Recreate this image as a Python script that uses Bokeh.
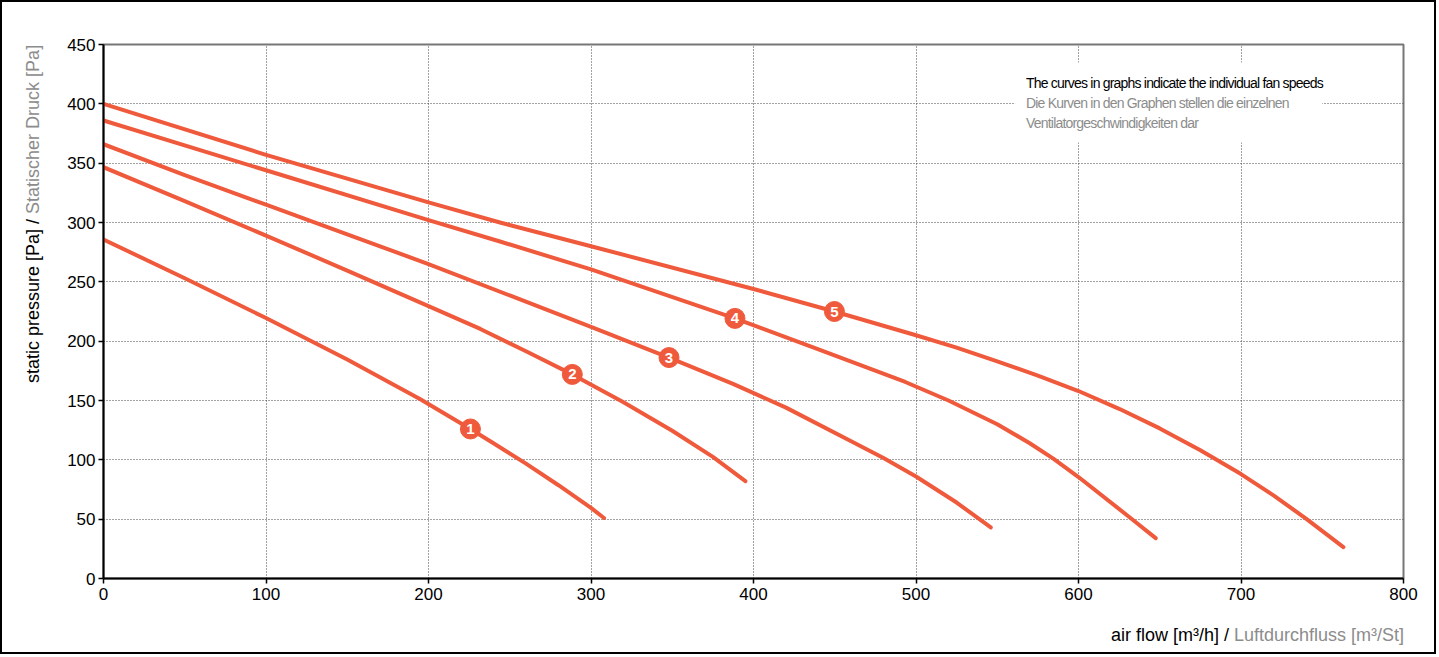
from bokeh.plotting import figure
from bokeh.layouts import column
from bokeh.models import Range1d, FixedTicker, BoxAnnotation, ColumnDataSource, Div
from bokeh.embed import file_html
from bokeh.resources import INLINE
from bokeh.core.properties import value

# ---- data ----
x_ticks = [0, 100, 200, 300, 400, 500, 600, 700, 800]
y_ticks = [0, 50, 100, 150, 200, 250, 300, 350, 400, 450]

c1_x = [0, 50, 100, 150, 195, 225.8, 240, 260, 280, 300, 308]
c1_y = [285.7, 253, 219.5, 184.5, 151, 126, 114, 96.8, 78.6, 59.5, 51]

c2_x = [0, 50, 100, 150, 200, 231.9, 260, 288.5, 320, 350, 375, 395]
c2_y = [346.6, 318, 289, 259.5, 229.5, 210.3, 191.5, 172, 148.5, 124.5, 102.5, 82]

c3_x = [0, 50, 100, 150, 200, 250, 300, 348, 387.4, 420, 459.5, 480, 500, 525, 546]
c3_y = [366, 340, 315, 290, 265, 238.5, 212, 186.2, 164, 144, 116, 101.5, 86, 64, 43]

c4_x = [0, 100, 200, 244, 300, 388.6, 440, 493.4, 520, 550, 570, 584.5, 600, 632, 647.5]
c4_y = [386, 344, 302, 284, 260.5, 219.2, 193, 165.6, 150, 130, 114, 101, 85.5, 51, 34]

c5_x = [0, 100, 200, 244, 300, 400, 449.8, 500, 525, 550, 575, 600, 625, 650, 675, 700, 720, 740, 763]
c5_y = [400, 357, 317, 300, 280, 244, 225, 205, 194.5, 183, 171, 158, 143, 126.5, 108, 88, 70, 50.5, 26.5]

marker_x = [225.8, 288.5, 348, 388.6, 449.8]
marker_y = [126, 172, 186.2, 219.2, 225]
marker_labels = ["1", "2", "3", "4", "5"]

note_lines = ["The curves in graphs indicate the individual fan speeds",
              "Die Kurven in den Graphen stellen die einzelnen",
              "Ventilatorgeschwindigkeiten dar"]
x_title = ["air flow [m³/h] / ", "Luftdurchfluss [m³/St]"]
y_title = ["static pressure [Pa] / ", "Statischer Druck [Pa]"]

# ---- styling ----
ORANGE = "#F05A3C"
GRAY = "#8c8c8c"
FONT = "Liberation Sans"
W, H = 1436, 654

p = figure(width=W, height=H, x_range=Range1d(0, 800), y_range=Range1d(0, 450),
           output_backend="svg", toolbar_location=None,
           min_border_left=101, min_border_right=35, min_border_top=42, min_border_bottom=78)
p.styles = {"border": "2px solid black"}

p.xaxis.ticker = FixedTicker(ticks=x_ticks)
p.yaxis.ticker = FixedTicker(ticks=y_ticks)
for ax in (p.xaxis[0], p.yaxis[0]):
    ax.minor_tick_line_color = None
    ax.major_tick_in = 0
    ax.major_tick_out = 5
    ax.major_tick_line_width = 1.5
    ax.major_tick_line_color = "black"
    ax.axis_line_width = 2
    ax.axis_line_color = "black"
    ax.major_label_text_font = FONT
    ax.major_label_text_font_size = "17px"
    ax.major_label_text_color = "black"
p.xaxis.major_label_standoff = 4
p.yaxis.major_label_standoff = 3

p.grid.grid_line_color = "#444444"
p.grid.grid_line_dash = "1 2"
p.grid.grid_line_width = 1
p.outline_line_color = "#777777"
p.outline_line_width = 2
p.outline_line_alpha = 1
p.background_fill_color = "white"
p.border_fill_color = "white"

# white box behind the note
p.add_layout(BoxAnnotation(left=561, right=750, bottom=367.4, top=434.8,
                           fill_color="white", fill_alpha=1, line_color=None))

for xs, ys in [(c1_x, c1_y), (c2_x, c2_y), (c3_x, c3_y), (c4_x, c4_y), (c5_x, c5_y)]:
    p.line(xs, ys, line_color=ORANGE, line_width=4, line_cap="round", line_join="round")

src = ColumnDataSource(dict(x=marker_x, y=marker_y, t=marker_labels))
p.scatter("x", "y", source=src, size=20, fill_color=ORANGE, line_color=ORANGE)
p.text("x", "y", text="t", source=src, text_color="white", text_font=value(FONT),
       text_font_style="bold", text_font_size="15px", text_align="center",
       text_baseline="middle")

# ---- HTML texts (two colours in one line), positioned over the figure ----
OX, OY = 4, H + 16          # page position of the overlay container (measured)
base = f"position:absolute; white-space:nowrap; font-family:'{FONT}'; "
xlab = (f'<div style="{base} right:{OX + W - 1403}px; top:{624 - OY}px; font-size:18px; line-height:20px;">'
        f'<span style="color:#000">{x_title[0]}</span>'
        f'<span style="color:{GRAY}">{x_title[1]}</span></div>')
ylab = (f'<div style="{base} left:{22 - OX}px; top:{382 - OY}px; font-size:18px; line-height:20px; '
        f'height:20px; transform:rotate(-90deg); transform-origin:0 0;">'
        f'<span style="color:#000">{y_title[0]}</span>'
        f'<span style="color:{GRAY}">{y_title[1]}</span></div>')
note_cols = ["#000", GRAY, GRAY]
note = "".join(
    f'<div style="{base} left:{1025 - OX}px; top:{72 + 20 * i - OY}px; font-size:14px; '
    f'line-height:20px; letter-spacing:-0.8px; color:{c}">{t}</div>'
    for i, (t, c) in enumerate(zip(note_lines, note_cols)))
d = Div(text=f'<div style="position:relative; width:{W}px; height:0px;">{xlab}{ylab}{note}</div>',
        width=W, height=1)

layout = column(p, d, spacing=0)
open("out.html", "w").write(file_html(layout, INLINE))
